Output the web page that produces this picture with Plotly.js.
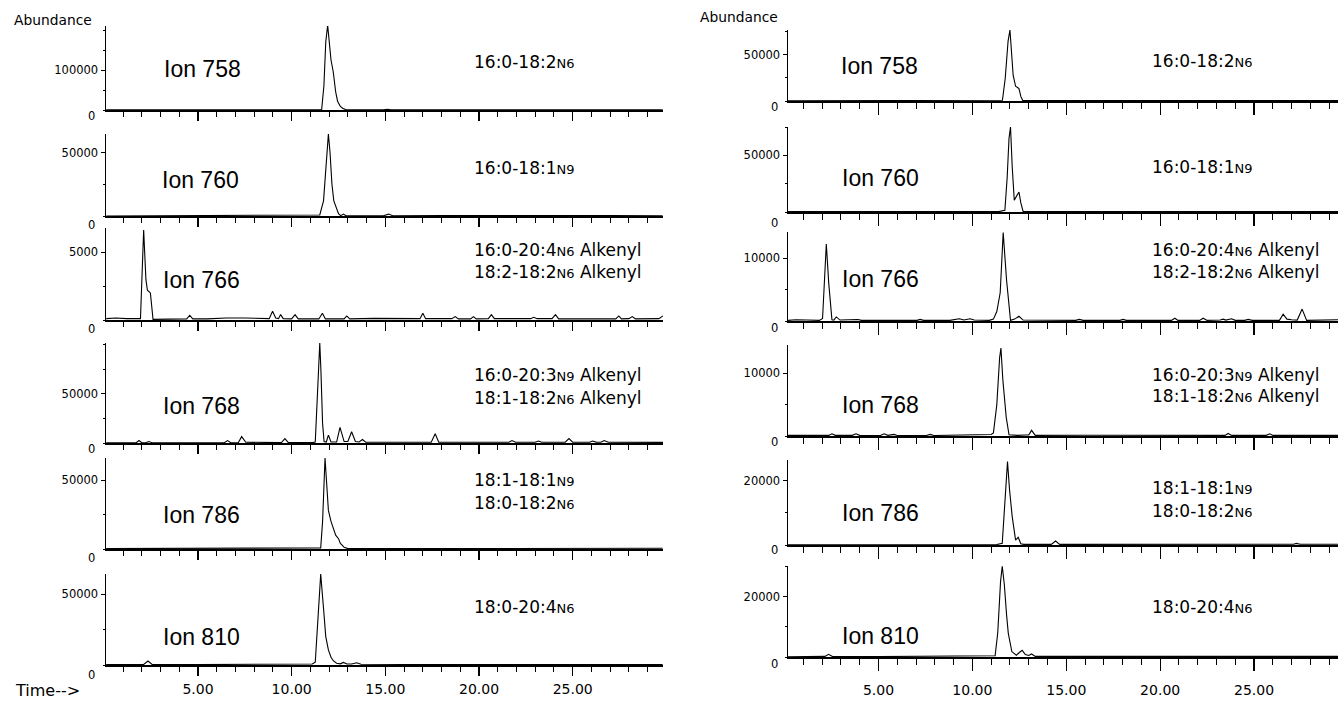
<!DOCTYPE html>
<html>
<head>
<meta charset="utf-8">
<script src="https://cdn.plot.ly/plotly-3.0.1.min.js"></script>
<style>html,body{margin:0;padding:0;background:#fff;}#chart{width:1338px;height:704px;}</style>
</head>
<body>
<div id="chart"></div>
<script>
// ---------- DATA (time in min, abundance) ----------
// Left column
const ion758L = [[0.1,500],[2,400],[4,300],[6,400],[8,300],[10,400],[11.0,500],[11.6,800],[11.72,60000],[11.82,170000],[11.92,212000],[12.0,175000],[12.1,125000],[12.22,95000],[12.35,45000],[12.45,22000],[12.6,9000],[12.72,4500],[12.8,2000],[12.9,500],[14.9,500],[15.1,1500],[15.3,500],[18,500],[21,400],[24,500],[27,400],[29.8,500]];
const ion760L = [[0.1,0],[3,200],[6,200],[9,300],[11.0,300],[11.5,800],[11.7,12000],[11.85,45000],[11.96,65000],[12.05,50000],[12.15,25000],[12.25,12000],[12.4,5000],[12.5,1800],[12.62,300],[12.76,1500],[12.9,200],[14.9,200],[15.17,1500],[15.4,200],[18,300],[21,500],[24,300],[27,300],[29.8,200]];
const ion766L = [[0.1,100],[0.6,150],[1.2,100],[1.8,80],[1.93,100],[2.1,6650],[2.22,3000],[2.3,2200],[2.46,2000],[2.6,50],[3.5,80],[4.4,80],[4.56,350],[4.72,80],[5.5,80],[6.5,150],[7.5,150],[8.8,100],[8.98,650],[9.15,150],[9.3,100],[9.41,400],[9.55,100],[10.0,80],[10.18,400],[10.35,80],[11.45,80],[11.64,500],[11.8,80],[12.8,80],[12.94,300],[13.1,80],[14.4,120],[16.85,100],[17.0,500],[17.15,100],[18.55,100],[18.73,250],[18.9,80],[19.55,80],[19.7,250],[19.85,80],[20.5,100],[20.66,400],[20.82,100],[22.75,100],[22.92,200],[23.1,100],[23.9,100],[24.08,400],[24.25,80],[27.3,80],[27.46,300],[27.6,80],[28.0,100],[28.18,250],[28.35,80],[29.6,100],[29.82,300]];
const ion768L = [[0.1,300],[1.0,300],[1.7,300],[1.85,2500],[2.0,300],[2.22,300],[2.37,1500],[2.55,300],[4,300],[6.4,300],[6.58,2500],[6.75,300],[7.15,300],[7.33,6500],[7.55,800],[8.8,500],[8.98,1200],[9.2,400],[9.45,400],[9.64,4500],[9.82,400],[11.1,400],[11.26,1000],[11.4,60000],[11.5,102000],[11.56,75000],[11.65,20000],[11.73,1500],[11.85,1000],[11.96,8000],[12.1,1000],[12.4,1000],[12.58,16000],[12.8,1500],[13.0,1500],[13.2,11500],[13.4,1500],[13.6,1000],[13.78,3500],[13.95,800],[15,800],[17.45,800],[17.66,9500],[17.85,800],[19,800],[21.6,800],[21.76,2500],[21.95,800],[23.0,800],[23.18,2000],[23.35,800],[23.9,1000],[24.05,1500],[24.2,800],[24.6,800],[24.8,4500],[25.0,800],[25.9,800],[26.06,2000],[26.25,900],[26.5,800],[26.68,2500],[26.9,800],[29.82,600]];
const ion786L = [[0.1,300],[3,300],[6,400],[9,300],[11.0,400],[11.55,800],[11.65,20000],[11.78,66000],[11.88,45000],[11.96,28000],[12.1,20000],[12.22,15000],[12.35,10000],[12.5,7500],[12.6,4000],[12.68,3000],[12.8,1200],[13.0,300],[16,400],[20,300],[24,500],[27,400],[29.8,500]];
const ion810L = [[0.1,300],[1.2,300],[2.1,400],[2.33,2800],[2.55,400],[5,300],[8,400],[10.5,500],[11.1,700],[11.26,2000],[11.4,30000],[11.55,64000],[11.7,40000],[11.82,20000],[11.96,10600],[12.1,5500],[12.22,3000],[12.4,1200],[12.6,800],[12.76,1800],[12.95,700],[13.2,700],[13.47,1600],[13.7,500],[16,400],[20,400],[25.5,400],[25.7,900],[25.9,400],[29.8,400]];
// Right column
const ion758R = [[0.18,300],[3,400],[6,300],[9,400],[11.3,400],[11.6,800],[11.75,25000],[11.9,65000],[12.0,77000],[12.1,50000],[12.17,28000],[12.3,16000],[12.48,13500],[12.58,5000],[12.68,500],[14,400],[18,500],[22,400],[26,600],[29.47,400]];
const ion760R = [[0.18,300],[3,300],[6.5,400],[9,300],[11.4,300],[11.73,1500],[11.85,30000],[11.95,65000],[12.03,75000],[12.12,40000],[12.23,10300],[12.35,14000],[12.48,17600],[12.58,8000],[12.7,500],[15,500],[20,300],[25,400],[29.47,400]];
const ion766R = [[0.18,100],[0.6,200],[1.2,150],[1.85,100],[2.02,400],[2.22,12300],[2.35,6000],[2.52,200],[2.62,150],[2.75,650],[2.95,150],[3.7,150],[3.9,250],[4.1,100],[5.5,100],[7.05,100],[7.22,250],[7.4,100],[8.8,100],[9.3,350],[9.55,150],[9.88,350],[10.1,150],[10.9,100],[11.12,300],[11.3,1500],[11.48,4500],[11.6,12000],[11.64,14100],[11.82,6500],[12.03,100],[12.25,300],[12.48,750],[12.7,150],[13.5,150],[15.5,100],[15.69,250],[15.9,100],[17.85,100],[18.03,250],[18.2,100],[20.6,100],[20.78,450],[20.95,100],[22.1,100],[22.29,450],[22.5,100],[23.2,150],[23.35,300],[23.5,150],[23.8,350],[24.0,100],[24.5,100],[24.69,250],[24.9,100],[26.35,100],[26.55,1100],[26.75,300],[27.0,200],[27.3,150],[27.56,1900],[27.8,100],[29.47,200]];
const ion768R = [[0.18,100],[1.5,100],[2.35,100],[2.52,350],[2.7,100],[3.6,100],[3.8,350],[4.0,100],[5.1,80],[5.3,350],[5.5,100],[5.82,250],[6.0,80],[7.55,80],[7.75,250],[7.95,80],[10.5,150],[11.0,250],[11.12,500],[11.3,5000],[11.45,12500],[11.52,14000],[11.62,9000],[11.8,3000],[11.95,200],[12.4,100],[12.8,150],[13.0,150],[13.15,900],[13.35,100],[16,120],[20,100],[23.45,100],[23.62,400],[23.8,100],[25.65,100],[25.84,350],[26.0,100],[29.47,100]];
const ion786R = [[0.18,100],[3,100],[6,200],[7.5,300],[9,150],[11.3,150],[11.59,500],[11.72,14000],[11.87,25900],[11.98,17000],[12.12,8800],[12.3,1500],[12.44,2400],[12.58,400],[12.74,200],[14.2,200],[14.43,1250],[14.65,200],[20,250],[27.1,250],[27.26,500],[27.45,250],[29.47,250]];
const ion810R = [[0.18,100],[1.5,100],[2.15,200],[2.34,900],[2.55,150],[5,150],[8,200],[10.8,200],[11.21,400],[11.35,8000],[11.5,25000],[11.59,30000],[11.7,24000],[11.82,14000],[11.91,7900],[12.1,1800],[12.34,600],[12.5,1500],[12.65,2200],[12.82,800],[13.0,500],[13.15,1000],[13.35,200],[16,200],[20,250],[25,250],[29.47,200]];

const ionNames = ['Ion 758','Ion 760','Ion 766','Ion 768','Ion 786','Ion 810'];
const compoundLabels = [
  ['16:0-18:2N6'],
  ['16:0-18:1N9'],
  ['16:0-20:4N6 Alkenyl','18:2-18:2N6 Alkenyl'],
  ['16:0-20:3N9 Alkenyl','18:1-18:2N6 Alkenyl'],
  ['18:1-18:1N9','18:0-18:2N6'],
  ['18:0-20:4N6']
];
const yMaxLeft  = [210000, 65000, 6800, 102000, 66000, 64100];
const yMaxRight = [77000, 75000, 14200, 14500, 26400, 30100];
const yTickLeft  = [100000, 50000, 5000, 50000, 50000, 50000];
const yTickRight = [50000, 50000, 10000, 10000, 20000, 20000];
const xRangeLeft = [0.09, 29.82];
const xRangeRight = [0.18, 29.47];
const leftData = [ion758L, ion760L, ion766L, ion768L, ion786L, ion810L];
const rightData = [ion758R, ion760R, ion766R, ion768R, ion786R, ion810R];

// ---------- LAYOUT (pixel geometry) ----------
const W = 1338, H = 704;
const colX = [[106, 663], [788, 1338]];
const rowsPx = [
  [[26,110],[134,216],[228,320],[343,443],[458,549],[574,665]],
  [[30,101],[127,212],[232,321],[345,436],[460,545],[566,657]]
];
const zeroLabelY = [[116,225,329,449,558,675],[107,222.7,327.7,442.3,550,664]];
const zeroLabelX = [97, 780];
const ionPos = [
  [[162,69],[160,180],[161,280],[161,406],[161,515],[161,636.7]],
  [[839,65.7],[840,178.3],[840,279],[840,405],[840,513.3],[840,636]]
];
const compPos = [
  [[472,[61.7]],[472,[168.3]],[472,[250,271.7]],[472,[375,398.3]],[472,[480,503.3]],[472,[606.7]]],
  [[1150,[61]],[1150,[166.7]],[1150,[250,271.7]],[1150,[375,396]],[1150,[488.3,511]],[1150,[606.7]]]
];

const px2x = p => p / W;
const px2y = p => 1 - p / H;
const fmtLabel = s => s.replace(/N(\d)/, '<span style="font-size:13px">N$1</span>');

const traces = [];
const layout = {
  width: W, height: H,
  margin: {l:0, r:0, t:0, b:0},
  paper_bgcolor: '#fff', plot_bgcolor: 'rgba(0,0,0,0)',
  showlegend: false,
  font: {family: 'DejaVu Sans, Arial, sans-serif', color: '#000'},
  annotations: []
};

let n = 0;
[leftData, rightData].forEach((colData, c) => {
  const yMax = c === 0 ? yMaxLeft : yMaxRight;
  const yTick = c === 0 ? yTickLeft : yTickRight;
  const xr = c === 0 ? xRangeLeft : xRangeRight;
  colData.forEach((d, r) => {
    n += 1;
    const xa = 'xaxis' + (n === 1 ? '' : n);
    const ya = 'yaxis' + (n === 1 ? '' : n);
    const xs = 'x' + (n === 1 ? '' : n);
    const ys = 'y' + (n === 1 ? '' : n);
    traces.push({
      x: d.map(p => p[0]), y: d.map(p => p[1]),
      xaxis: xs, yaxis: ys, type: 'scatter', mode: 'lines',
      line: {color: '#000', width: 1.1}, hoverinfo: 'skip'
    });
    const [top, bot] = rowsPx[c][r];
    const bottomRow = r === 5;
    layout[xa] = {
      domain: [px2x(colX[c][0]), px2x(colX[c][1])],
      anchor: ys, range: xr,
      showline: true, linecolor: '#000', linewidth: 1.5,
      showgrid: false, zeroline: false,
      tickmode: 'linear', tick0: 0, dtick: 5,
      ticks: 'outside', ticklen: c === 0 ? 9 : 12, tickwidth: 1.2, tickcolor: '#000',
      minor: {tickmode: 'linear', tick0: 0, dtick: 1, ticks: 'outside', ticklen: c === 0 ? 5 : 6, tickwidth: 1, tickcolor: '#000', showgrid: false},
      showticklabels: bottomRow, tickformat: '.2f',
      ticklabelstandoff: c === 0 ? 2 : 8,
      tickfont: {family: 'DejaVu Sans, Arial, sans-serif', size: 14, color: '#000'},
      fixedrange: true
    };
    layout[ya] = {
      domain: [px2y(bot), px2y(top)],
      anchor: xs, range: [0, yMax[r]],
      showline: true, linecolor: '#000', linewidth: 1.5,
      showgrid: false, zeroline: false,
      tickmode: 'array', tickvals: [yTick[r]], ticktext: [String(yTick[r])],
      ticks: 'outside', ticklen: 4, tickwidth: 1, tickcolor: '#000',
      minor: {tickmode: 'linear', tick0: 0, dtick: yTick[r] / 2, ticks: 'outside', ticklen: 2, tickwidth: 1, tickcolor: '#000', showgrid: false},
      tickfont: {family: 'DejaVu Sans, Arial, sans-serif', size: 11.5, color: '#000'},
      fixedrange: true
    };
    // zero label
    layout.annotations.push({
      xref: 'paper', yref: 'paper', x: px2x(zeroLabelX[c]), y: px2y(zeroLabelY[c][r]),
      xanchor: 'right', yanchor: 'middle', showarrow: false, text: '0',
      font: {family: 'DejaVu Sans, Arial, sans-serif', size: 11.5, color: '#000'}
    });
    // ion label
    layout.annotations.push({
      xref: 'paper', yref: 'paper', x: px2x(ionPos[c][r][0]), y: px2y(ionPos[c][r][1]),
      xanchor: 'left', yanchor: 'middle', showarrow: false, text: ionNames[r],
      font: {family: 'Liberation Sans, Arial, sans-serif', size: 23, color: '#000'}
    });
    // compound labels
    compoundLabels[r].forEach((s, k) => {
      layout.annotations.push({
        xref: 'paper', yref: 'paper', x: px2x(compPos[c][r][0]), y: px2y(compPos[c][r][1][k]),
        xanchor: 'left', yanchor: 'middle', showarrow: false, text: fmtLabel(s),
        font: {family: 'DejaVu Sans, Arial, sans-serif', size: 17, color: '#000'}
      });
    });
  });
});

// Abundance / Time labels
layout.annotations.push({xref:'paper', yref:'paper', x: px2x(12), y: px2y(20), xanchor:'left', yanchor:'middle', showarrow:false, text:'Abundance', font:{family:'DejaVu Sans, Arial, sans-serif', size:13.8, color:'#000'}});
layout.annotations.push({xref:'paper', yref:'paper', x: px2x(698), y: px2y(17), xanchor:'left', yanchor:'middle', showarrow:false, text:'Abundance', font:{family:'DejaVu Sans, Arial, sans-serif', size:13.8, color:'#000'}});
layout.annotations.push({xref:'paper', yref:'paper', x: px2x(13), y: px2y(690), xanchor:'left', yanchor:'middle', showarrow:false, text:'Time-->', font:{family:'DejaVu Sans, Arial, sans-serif', size:16, color:'#000'}});

Plotly.newPlot('chart', traces, layout, {displayModeBar: false, staticPlot: true});
</script>
</body>
</html>
